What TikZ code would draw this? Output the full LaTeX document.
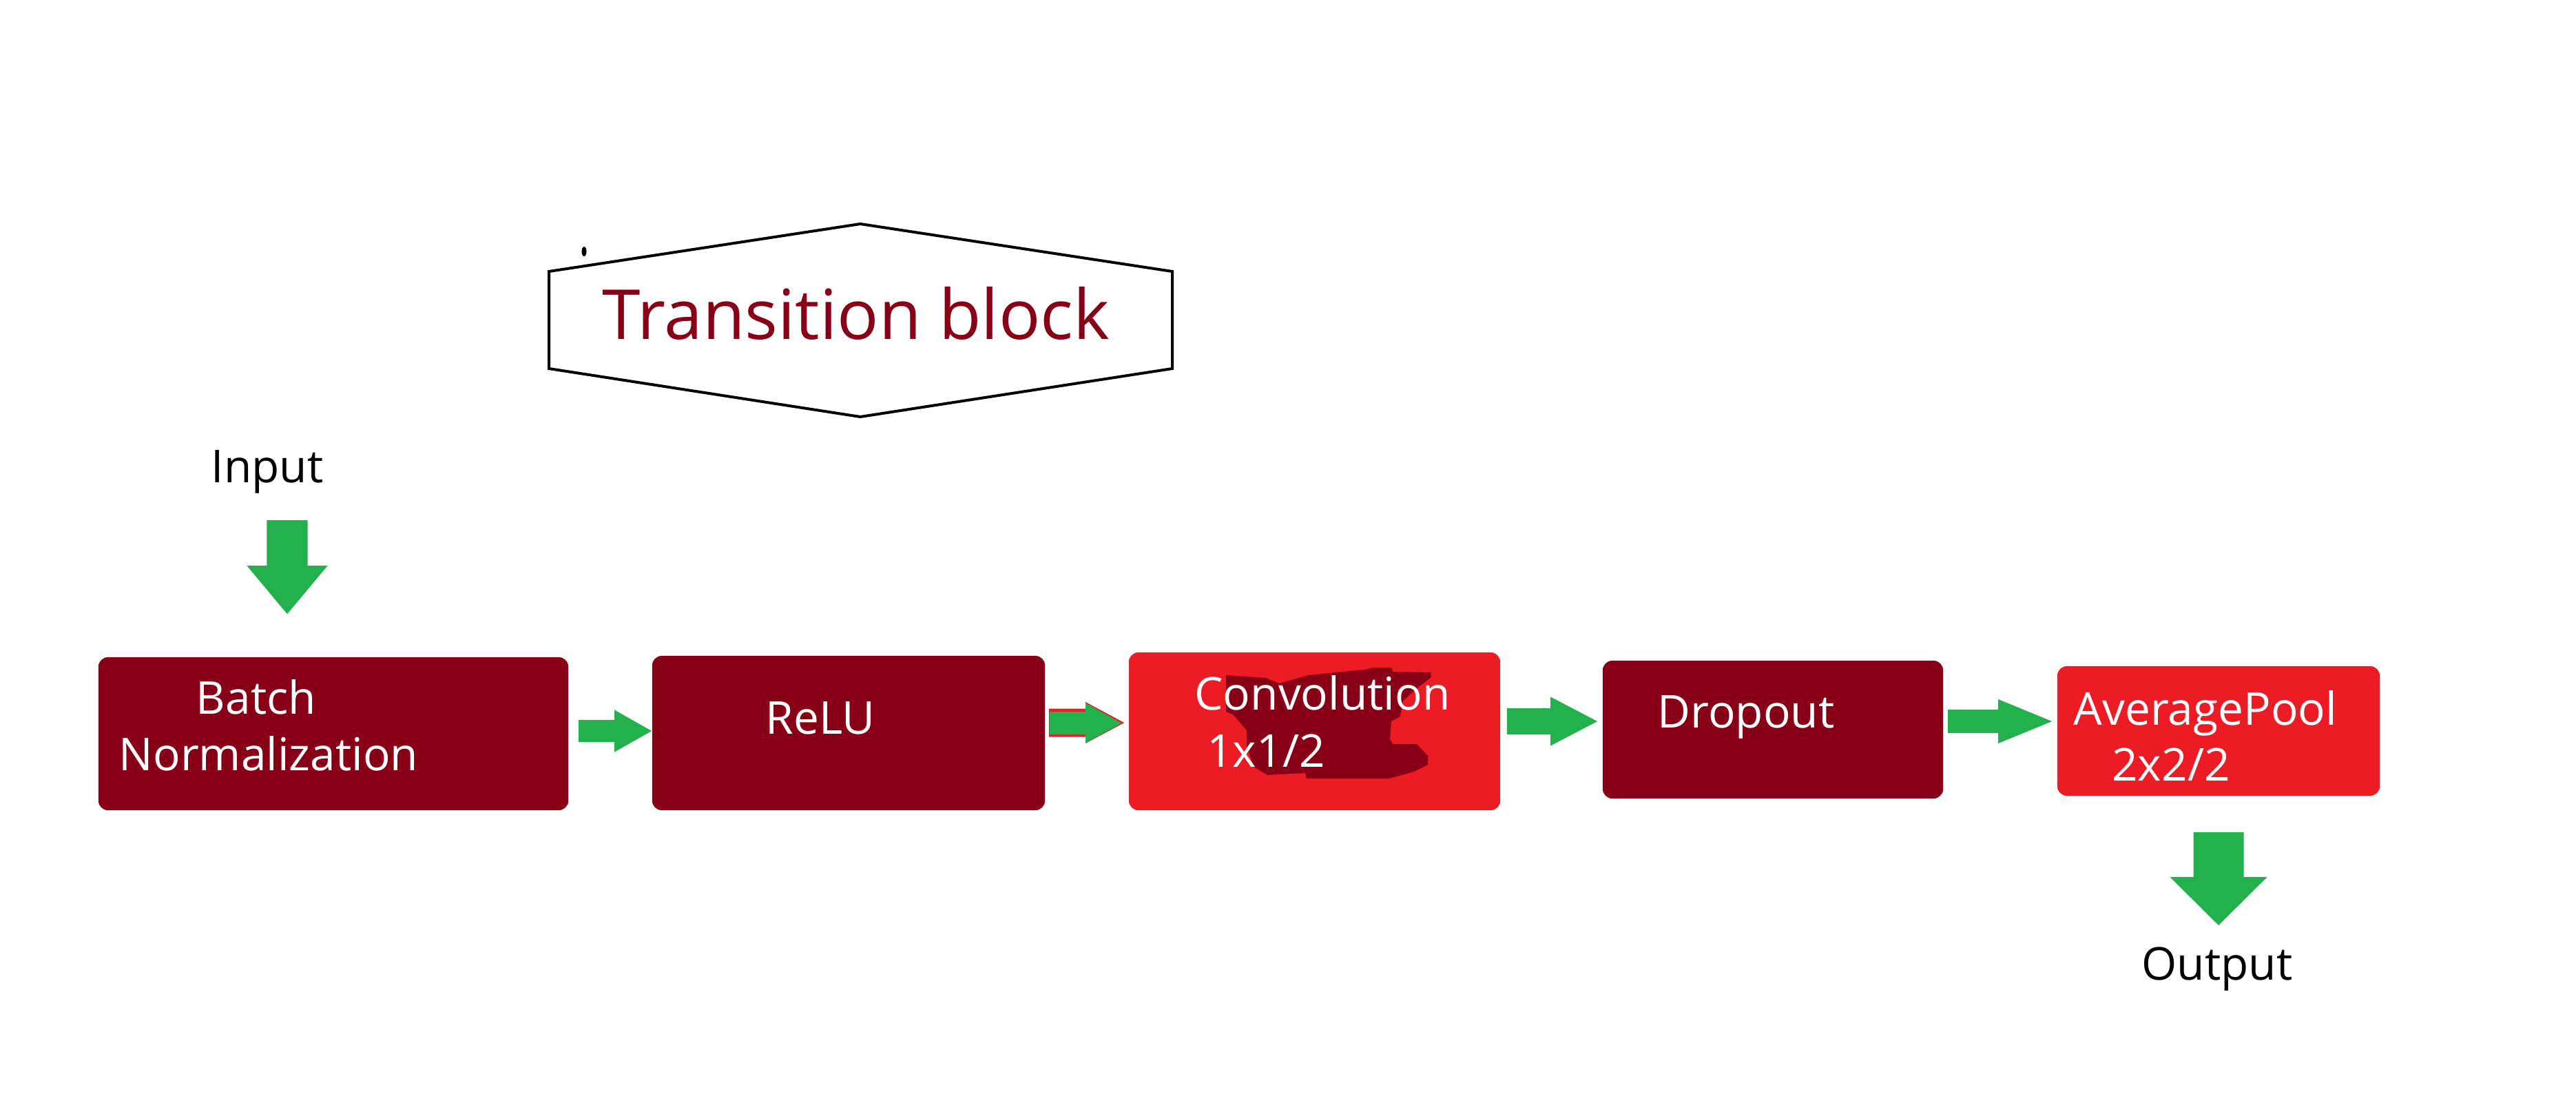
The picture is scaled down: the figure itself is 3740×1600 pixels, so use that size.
\documentclass[tikz,border=0pt]{standalone}
\usepackage{fontspec}
\setmainfont{Open Sans}
\usetikzlibrary{calc}
\definecolor{boxred}{RGB}{136,0,21}
\definecolor{lightred}{RGB}{237,28,36}
\definecolor{arrowgreen}{RGB}{34,177,76}

\tikzset{
 box/.style={rectangle, rounded corners=0.14cm, draw=none, inner sep=0},
 txt/.style={anchor=base, inner sep=0, text=white, font=\fontsize{18.7}{22}\selectfont},
 harrow/.style n args={3}{fill=arrowgreen, to path={let \p1=(\tikztostart), \p2=(\tikztotarget) in
   (\x1,\y1+#1) -- (\x2-#3,\y1+#1) -- (\x2-#3,\y1+#2) -- (\x2,\y1) -- (\x2-#3,\y1-#2) -- (\x2-#3,\y1-#1) -- (\x1,\y1-#1) -- cycle}},
 varrow/.style n args={3}{fill=arrowgreen, to path={let \p1=(\tikztostart), \p2=(\tikztotarget) in
   (\x1-#1,\y1) -- (\x1-#1,\y2+#3) -- (\x1-#2,\y2+#3) -- (\x1,\y2) -- (\x1+#2,\y2+#3) -- (\x1+#1,\y2+#3) -- (\x1+#1,\y1) -- cycle}}
}

\begin{document}
\begin{tikzpicture}[x=0.01cm, y=-0.01cm]
\useasboundingbox (0,0) rectangle (3740,1600);

% title
\draw[line width=0.04cm] (797,394) -- (1249,325) -- (1702,394) -- (1702,535) -- (1249,605) -- (797,535) -- cycle;
\fill (848,365) ellipse [x radius=0.035cm, y radius=0.07cm];
\node[txt, text=boxred, font=\fontsize{28.5}{34}\selectfont] (title) at (1243,492) {Transition block};

% blocks
\node[box, fill=boxred, minimum width=6.82cm, minimum height=2.22cm] (bn) at (484,1065) {};
\node[box, fill=boxred, minimum width=5.70cm, minimum height=2.24cm] (relu) at (1232,1064) {};
\node[box, fill=lightred, minimum width=5.39cm, minimum height=2.29cm] (conv) at (1908.5,1061.5) {};
\node[box, fill=boxred, minimum width=4.94cm, minimum height=2.00cm] (drop) at (2574,1059) {};
\node[box, fill=lightred, minimum width=4.68cm, minimum height=1.88cm] (pool) at (3221,1061) {};

% smudge on the convolution block
\fill[boxred] (1780,980) -- (1838,984) -- (1857,992) -- (1900,980) -- (1950,975) -- (1982,972) -- (1993,969)
  -- (2020,969) -- (2022,975) -- (2077,976) -- (2078,983) -- (2060,997) -- (2037,1017) -- (2033,1040)
  -- (2020,1047) -- (2018,1073) -- (2022,1080) -- (2057,1080) -- (2073,1097) -- (2073,1110) -- (2053,1120)
  -- (2017,1130) -- (1897,1130) -- (1895,1122) -- (1840,1125) -- (1820,1113) -- (1810,1083) -- (1810,1060)
  -- (1790,1037) -- (1780,1033) -- cycle;

\node[txt] (bn-a) at (372,1036) {Batch};
\node[txt] (bn-b) at (390,1118) {Normalization};
\node[txt] (relu-t) at (1191,1065) {ReLU};
\node[txt] (conv-a) at (1920,1030) {Convolution};
\node[txt] (conv-b) at (1838,1113) {1x1/2};
\node[txt] (drop-t) at (2535,1056) {Dropout};
\node[txt] (pool-a) at (3202,1052) {AveragePool};
\node[txt] (pool-b) at (3152,1133) {2x2/2};
\node[txt, text=black] (in) at (388,700) {Input};
\node[txt, text=black] (out) at (3219,1422) {Output};

% arrows
\path[varrow={0.295cm}{0.585cm}{0.70cm}] ($(in.base)+(29,55)$) to ($(bn.north)+(0,-62)$);
\path[harrow={0.16cm}{0.305cm}{0.54cm}] ($(bn.east)+(14,-4)$) to (relu.west);
\path[harrow={0.205cm}{0.30cm}{0.56cm}, fill=lightred] ($(relu.east)+(5,-15)$) to ($(conv.west)+(-6,0)$);
\path[harrow={0.165cm}{0.29cm}{0.52cm}] ($(relu.east)+(6,-14.5)$) to ($(conv.west)+(-10,0)$);
\path[harrow={0.19cm}{0.355cm}{0.68cm}] ($(conv.east)+(9,-14.5)$) to ($(drop.west)+(-7,0)$);
\path[harrow={0.17cm}{0.32cm}{0.78cm}] ($(drop.east)+(6,-12)$) to ($(pool.west)+(-7,0)$);
\path[varrow={0.365cm}{0.705cm}{0.70cm}] ($(pool.south)+(0,52)$) to ($(out.base)+(0,-79)$);
\end{tikzpicture}
\end{document}
